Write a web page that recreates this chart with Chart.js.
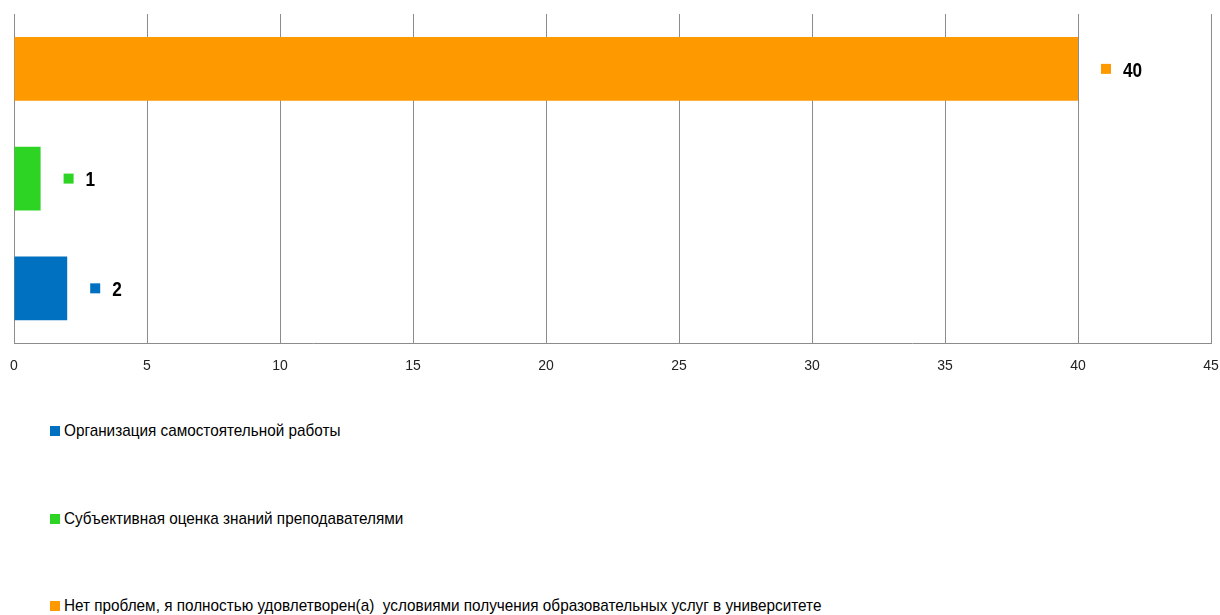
<!doctype html>
<html lang="ru">
  <head>
    <meta charset="UTF-8" />
    <title>Проблемы</title>
    <script src="https://cdn.jsdelivr.net/npm/chart.js"></script>
    <style>
      body {
        margin: 0;
        background: #fff;
        width: 1220px;
        height: 615px;
        overflow: hidden;
        font-family: 'Liberation Sans', Arial, sans-serif;
      }
      .wrap {
        position: relative;
        width: 1220px;
        height: 390px;
      }
      #legend {
        position: absolute;
        left: 50px;
        top: 0;
      }
      .item {
        position: absolute;
        left: 0;
        white-space: pre;
        font-size: 17px;
        color: #000;
        line-height: 20px;
      }
      .item span.box {
        display: inline-block;
        width: 10px;
        height: 10px;
        margin-right: 4px;
      }
      .item span.txt {
        display: inline-block;
        transform: scaleX(0.9);
        transform-origin: left center;
      }
    </style>
  </head>
  <body>
    <div class="wrap">
      <canvas id="chart" width="1220" height="390"></canvas>
    </div>
    <div id="legend"></div>

    <script>
      // данные (порядок как в легенде)
      const seriesNames = [
        'Организация самостоятельной работы',
        'Субъективная оценка знаний преподавателями',
        'Нет проблем, я полностью удовлетворен(а)  условиями получения образовательных услуг в университете',
      ];
      const seriesValues = [2, 1, 40];
      const seriesColors = ['#0070c0', '#2ed424', '#ff9900'];
      const categories = [''];
      const xTicks = [0, 5, 10, 15, 20, 25, 30, 35, 40, 45];

      // оранжевый сверху -> наборы в обратном порядке
      const datasets = seriesNames
        .map((name, i) => ({
          label: name,
          data: [seriesValues[i]],
          backgroundColor: seriesColors[i],
          borderWidth: 0,
          categoryPercentage: 1.0,
          barPercentage: 0.58,
        }))
        .reverse();

      // подписи значений: квадрат + число
      const valueLabels = {
        id: 'valueLabels',
        afterDatasetsDraw(chart) {
          const ctx = chart.ctx;
          chart.data.datasets.forEach((ds, i) => {
            chart.getDatasetMeta(i).data.forEach((bar, j) => {
              const x = bar.x + 23;
              const y = bar.y;
              ctx.save();
              ctx.fillStyle = ds.backgroundColor;
              ctx.fillRect(x, y - 5, 10, 10);
              ctx.translate(x + 22, y + 2);
              ctx.scale(0.82, 1);
              ctx.fillStyle = '#000';
              ctx.font = "bold 21px 'Liberation Sans', Arial";
              ctx.textBaseline = 'middle';
              ctx.textAlign = 'left';
              ctx.fillText(String(ds.data[j]), 0, 0);
              ctx.restore();
            });
          });
        },
      };

      new Chart(document.getElementById('chart').getContext('2d'), {
        type: 'bar',
        data: { labels: categories, datasets: datasets },
        options: {
          indexAxis: 'y',
          responsive: false,
          animation: false,
          layout: { padding: { left: 14, right: 9, top: 14, bottom: 0 } },
          plugins: { legend: { display: false }, tooltip: { enabled: false } },
          scales: {
            x: {
              min: 0,
              max: 45,
              afterBuildTicks: (axis) => {
                axis.ticks = xTicks.map((v) => ({ value: v }));
              },
              afterFit: (axis) => {
                axis.paddingLeft = 0;
                axis.paddingRight = 0;
              },
              grid: { color: '#8c8c8c', lineWidth: 1, drawTicks: false },
              border: { color: '#8c8c8c', width: 1 },
              ticks: {
                padding: 15,
                color: '#222',
                font: { family: "'Liberation Sans', Arial", size: 14 },
              },
            },
            y: { display: false },
          },
        },
        plugins: [valueLabels],
      });

      // легенда вертикально
      const legend = document.getElementById('legend');
      const tops = [421, 509, 596];
      seriesNames.forEach((name, i) => {
        const d = document.createElement('div');
        d.className = 'item';
        d.style.top = tops[i] + 'px';
        d.innerHTML =
          '<span class="box" style="background:' + seriesColors[i] + '"></span><span class="txt">' + name + '</span>';
        legend.appendChild(d);
      });
    </script>
  </body>
</html>
